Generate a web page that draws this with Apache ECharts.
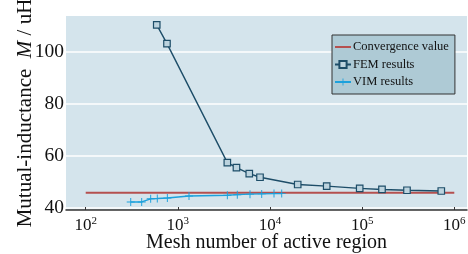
<!DOCTYPE html>
<html>
<head>
	<meta charset="utf-8" />
	<title>Mutual inductance convergence</title>
	<script type="text/javascript" src="https://cdn.jsdelivr.net/npm/echarts@6/dist/echarts.min.js"></script>
	<style type="text/css">
		html, body { margin: 0; padding: 0; background: #fff; }
		#container { width: 468px; height: 254px; }
	</style>
</head>
<body>
<div id="container"></div>
<script type="text/javascript">
	// mesh numbers and mutual inductance (uH)
	var femMesh = [590, 762, 3443, 4325, 5957, 7790, 19980, 41240, 94060, 164200, 306700, 722500];
	var femValue = [110.4, 103.2, 57.4, 55.5, 53.2, 51.8, 49.0, 48.4, 47.5, 47.1, 46.8, 46.5];

	var vimMesh = [308, 405, 507, 598, 769, 1321, 3443, 4416, 6068, 8128, 11050, 13400];
	var vimValue = [42.3, 42.3, 43.5, 43.6, 43.8, 44.6, 44.9, 45.1, 45.3, 45.4, 45.5, 45.5];

	var convMesh = [100, 1000000];
	var convValue = [45.8, 45.8];

	var names = ['Convergence value', 'FEM results', 'VIM results'];

	function pairs(xs, ys) {
		var out = [];
		for (var i = 0; i < xs.length; i++) out.push([xs[i], ys[i]]);
		return out;
	}

	var serif = "'Liberation Serif', 'DejaVu Serif', serif";
	var plusPath = 'path://M0,4.4H10V5.6H0Z M4.4,0H5.6V10H4.4Z';

	var chart = echarts.init(document.getElementById('container'));

	var options = {
		animation: false,
		textStyle: { fontFamily: serif, color: '#111' },
		grid: {
			left: 66, right: 1, top: 16, bottom: 44,
			outerBoundsMode: 'none',
			containLabel: false,
			show: true,
			backgroundColor: '#d4e4ec',
			borderWidth: 0
		},
		legend: {
			data: [
				{ name: names[0], icon: 'path://M0,0H16V2H0Z' },
				names[1],
				names[2]
			],
			orient: 'vertical',
			left: 332, top: 35,
			padding: [5, 6, 5, 2],
			itemWidth: 16,
			itemHeight: 9,
			itemGap: 3.5,
			backgroundColor: '#aecad5',
			borderColor: '#333',
			borderWidth: 1,
			textStyle: { fontFamily: serif, fontSize: 12.5, color: '#111', lineHeight: 14, padding: [0, 0, 0, -3] }
		},
		xAxis: {
			type: 'log',
			logBase: 10,
			min: Math.pow(10, 1.786),
			max: Math.pow(10, 6.138),
			name: 'Mesh number of active region',
			nameLocation: 'middle',
			nameGap: 23,
			nameMoveOverlap: false,
			nameTextStyle: { fontFamily: serif, fontSize: 20, color: '#111' },
			axisLine: { show: true, lineStyle: { color: '#333', width: 1.5 } },
			axisTick: { show: true, inside: true, length: 3, lineStyle: { color: '#333' } },
			minorTick: { show: false },
			splitLine: { show: false },
			axisLabel: {
				showMinLabel: false,
				showMaxLabel: false,
				margin: 6,
				fontFamily: serif,
				fontSize: 17,
				color: '#111',
				formatter: function (v) {
					var lg = Math.log(v) / Math.LN10;
					var e = Math.round(lg);
					if (Math.abs(lg - e) > 1e-6) return '';
					return '10{s|' + e + '}';
				},
				rich: {
					s: { fontFamily: serif, fontSize: 11, color: '#111', padding: [0, 0, 9, 0] }
				}
			}
		},
		yAxis: {
			type: 'value',
			min: 39.2,
			max: 113.8,
			splitNumber: 3,
			name: 'Mutual-inductance  {i|M} / uH',
			nameLocation: 'middle',
			nameGap: 30,
			nameMoveOverlap: false,
			nameTextStyle: {
				fontFamily: serif, fontSize: 21, color: '#111',
				rich: { i: { fontFamily: serif, fontSize: 21, fontStyle: 'italic', color: '#111' } }
			},
			axisLine: { show: false },
			axisTick: { show: false },
			splitLine: { show: true, showMinLine: false, showMaxLine: false, lineStyle: { color: '#ffffff', width: 1.5 } },
			axisLabel: {
				showMinLabel: false,
				showMaxLabel: false,
				margin: 2,
				fontFamily: serif,
				fontSize: 19.5,
				color: '#111'
			}
		},
		series: [
			{
				name: names[0],
				type: 'line',
				data: pairs(convMesh, convValue),
				symbol: 'none',
				lineStyle: { color: '#b5504f', width: 2 },
				itemStyle: { color: '#b5504f' }
			},
			{
				name: names[1],
				type: 'line',
				data: pairs(femMesh, femValue),
				symbol: 'rect',
				symbolSize: 6.5,
				lineStyle: { color: '#1d4d68', width: 1.4 },
				itemStyle: { color: '#bcd3de', borderColor: '#1d4d68', borderWidth: 1.2 }
			},
			{
				name: names[2],
				type: 'line',
				data: pairs(vimMesh, vimValue),
				symbol: plusPath,
				symbolSize: 8,
				lineStyle: { color: '#1da1dc', width: 1.4 },
				itemStyle: { color: '#1da1dc' }
			}
		]
	};

	chart.setOption(options);
</script>
</body>
</html>
